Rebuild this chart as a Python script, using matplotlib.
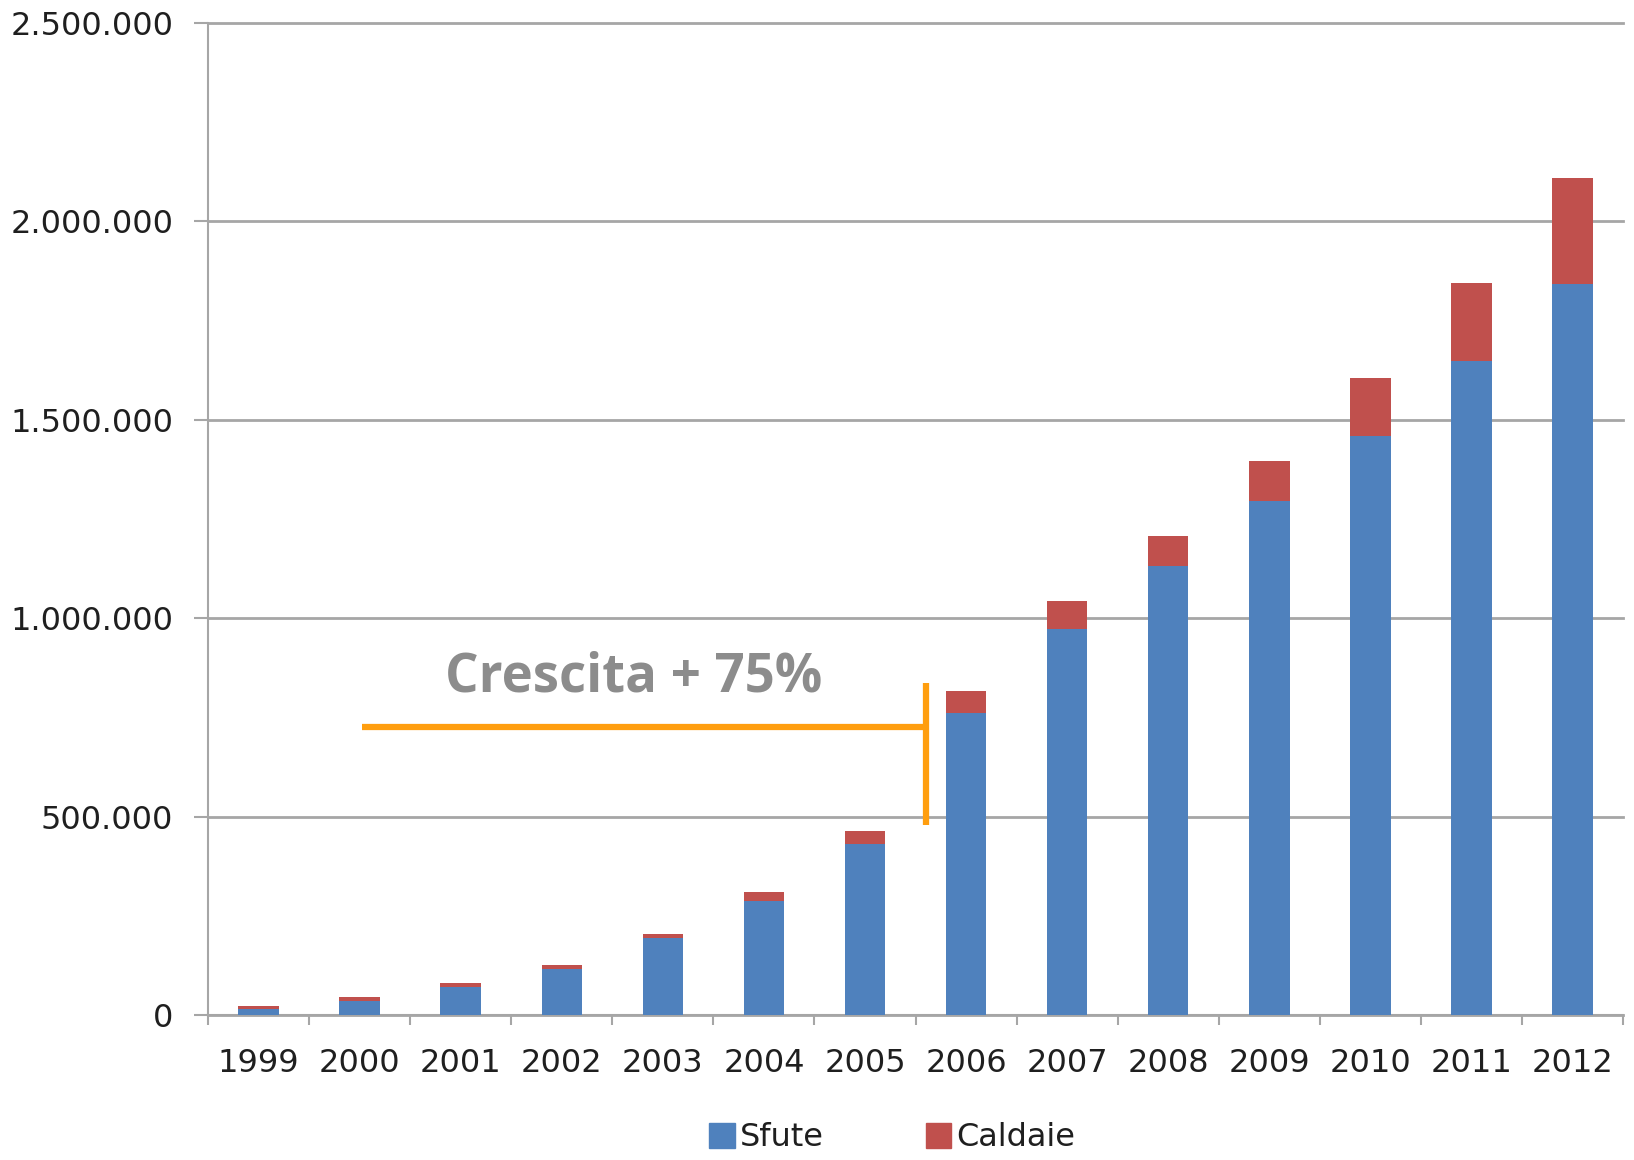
import numpy as np
import matplotlib.pyplot as plt
from matplotlib.patches import Patch

# Data
years = ['1999', '2000', '2001', '2002', '2003', '2004', '2005',
         '2006', '2007', '2008', '2009', '2010', '2011', '2012']
sfute = [15000, 36000, 70000, 116000, 193000, 288000, 430000,
         762000, 974000, 1131000, 1295000, 1458000, 1647000, 1843000]
totale = [23000, 45000, 80000, 127000, 203000, 310000, 464000,
          817000, 1044000, 1207000, 1396000, 1605000, 1845000, 2109000]
caldaie = [t - s for t, s in zip(totale, sfute)]
y_ticks = [0, 500000, 1000000, 1500000, 2000000, 2500000]

blue = '#4F81BD'
red = '#C0504D'
grey = '#A6A6A6'
orange = '#FF9E0F'
txt = '#1F1F1F'

fig = plt.figure(figsize=(16.34, 11.6), dpi=100)
ax = fig.add_axes([0.1273, 0.125, 0.866, 0.8552])

x = np.arange(len(years))
ax.bar(x, sfute, width=0.4, color=blue, zorder=3)
ax.bar(x, caldaie, bottom=sfute, width=0.4, color=red, zorder=3)

ax.set_xlim(-0.5, len(years) - 0.5)
ax.set_ylim(0, 2500000)

# y axis
ax.set_yticks(y_ticks)
ax.set_yticklabels([f"{v:,.0f}".replace(",", ".") for v in y_ticks])
ax.tick_params(axis='y', length=10, width=1.5, color=grey, pad=15,
               labelsize=23, labelcolor=txt)
ax.yaxis.grid(True, color=grey, linewidth=2, zorder=0)
for gl in ax.get_ygridlines():
    gl.set_clip_on(False)

# x axis: labels at centres, tick marks at boundaries
ax.set_xticks(x)
ax.set_xticklabels(years)
ax.set_xticks(np.arange(len(years) + 1) - 0.5, minor=True)
ax.tick_params(axis='x', which='major', length=0, pad=24,
               labelsize=23, labelcolor=txt)
ax.tick_params(axis='x', which='minor', length=7, width=1.5, color=grey)

for side in ['top', 'right']:
    ax.spines[side].set_visible(False)
for side in ['left', 'bottom']:
    ax.spines[side].set_color(grey)
    ax.spines[side].set_linewidth(1.5)

# annotation
ax.plot([1.02, 6.6], [725000, 725000], color=orange, lw=4.5,
        solid_capstyle='butt', zorder=4)
ax.plot([6.6, 6.6], [479000, 836000], color=orange, lw=4.5,
        solid_capstyle='butt', zorder=4)
ax.text(3.71, 851000, 'Crescita + 75%', ha='center', va='center',
        fontsize=38, fontweight='bold', color='#8C8C8C', family='Open Sans')

# legend
handles = [Patch(color=blue, label='Sfute'), Patch(color=red, label='Caldaie')]
fig.legend(handles=handles, loc='center', bbox_to_anchor=(0.546, 0.019),
           ncol=2, frameon=False, fontsize=23, handlelength=0.8,
           handleheight=0.8, handletextpad=0.15, columnspacing=3.2,
           labelcolor=txt)

fig.savefig('out.png', dpi=100)
